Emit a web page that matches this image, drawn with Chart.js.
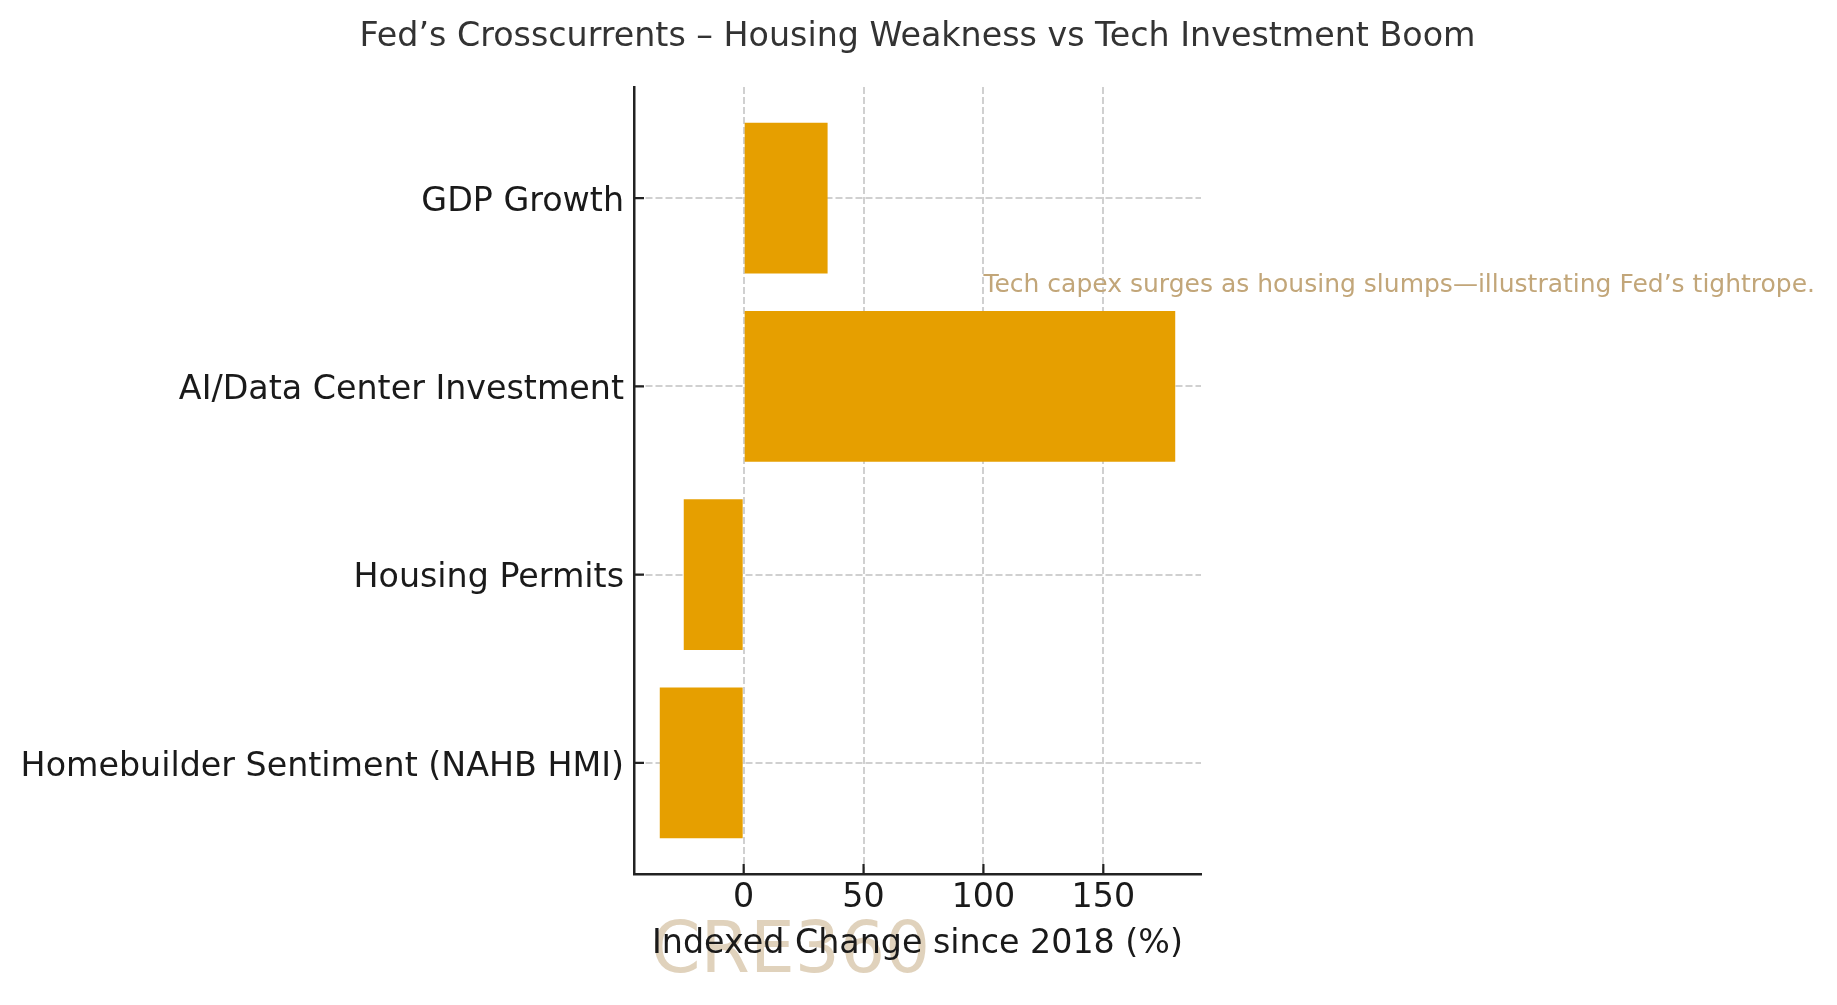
<!DOCTYPE html>
<html>
<head>
<meta charset="utf-8">
<script src="https://cdn.jsdelivr.net/npm/chart.js@4.4.1/dist/chart.umd.min.js"></script>
<style>
  html, body { margin: 0; padding: 0; background: #fff; }
  canvas { display: block; }
</style>
</head>
<body>
<canvas id="myChart" width="1837" height="1005"></canvas>
<script>
// bottom to top, like the original barh
const categories = ['Homebuilder Sentiment (NAHB HMI)', 'Housing Permits', 'AI/Data Center Investment', 'GDP Growth'];
const values = [-35, -25, 180, 35];
const xTicks = [0, 50, 100, 150];
const chartTitle = 'Fed\u2019s Crosscurrents \u2013 Housing Weakness vs Tech Investment Boom';
const xTitle = 'Indexed Change since 2018 (%)';
const noteText = 'Tech capex surges as housing slumps\u2014illustrating Fed\u2019s tightrope.';
const notePos = [100, 2.5];
const watermark = 'CRE360';

const FONT = '"DejaVu Sans", sans-serif';
const TAN = '#c2a679';

const extras = {
  id: 'extras',
  afterDraw(chart) {
    const { ctx, chartArea, scales } = chart;
    const x = scales.x, y = scales.y;
    ctx.save();
    // inward tick marks
    ctx.strokeStyle = '#222';
    ctx.lineWidth = 2.2;
    ctx.beginPath();
    xTicks.forEach(v => {
      const px = x.getPixelForValue(v);
      ctx.moveTo(px, chartArea.bottom);
      ctx.lineTo(px, chartArea.bottom - 10);
    });
    categories.forEach((c, i) => {
      const py = y.getPixelForValue(i);
      ctx.moveTo(chartArea.left, py);
      ctx.lineTo(chartArea.left + 10, py);
    });
    ctx.stroke();

    const cx = (chartArea.left + chartArea.right) / 2;
    ctx.textAlign = 'center';
    ctx.textBaseline = 'alphabetic';
    ctx.fillStyle = '#333';
    ctx.font = '33.3px ' + FONT;
    ctx.fillText(chartTitle, cx, 46);

    // note
    ctx.textAlign = 'left';
    ctx.fillStyle = TAN;
    ctx.font = '25px ' + FONT;
    ctx.fillText(noteText, x.getPixelForValue(notePos[0]), y.getPixelForValue(notePos[1]));

    // watermark
    ctx.globalAlpha = 0.5;
    ctx.font = '71px ' + FONT;
    ctx.fillText(watermark, chartArea.left + 17, chartArea.bottom + 98);
    ctx.globalAlpha = 1;

    ctx.textAlign = 'center';
    ctx.fillStyle = '#1a1a1a';
    ctx.font = '33.3px ' + FONT;
    ctx.fillText(xTitle, cx, chartArea.bottom + 79);
    ctx.restore();
  }
};

const ctx = document.getElementById('myChart');
new Chart(ctx, {
  type: 'bar',
  data: {
    datasets: [{
      data: values.map((v, i) => ({ x: v, y: i })),
      backgroundColor: '#e69f00',
      borderWidth: 0,
      barPercentage: 0.8,
      categoryPercentage: 1.0
    }]
  },
  options: {
    indexAxis: 'y',
    responsive: false,
    animation: false,
    layout: { padding: { left: 0, top: 87, right: 636, bottom: 0 } },
    plugins: { legend: { display: false }, tooltip: { enabled: false } },
    scales: {
      x: {
        type: 'linear',
        min: -45.75,
        max: 190.75,
        offset: false,
        z: 1,
        afterBuildTicks: s => { s.ticks = xTicks.map(v => ({ value: v })); },
        afterFit: s => { s.height = 131; },
        grid: { color: '#d0d0d0', lineWidth: 2, drawTicks: false, offset: false },
        border: { display: true, color: '#222', width: 2.5, dash: [7, 3] },
        ticks: { color: '#1a1a1a', padding: 8, font: { family: FONT, size: 33.3, lineHeight: 1 } }
      },
      y: {
        type: 'linear',
        min: -0.59,
        max: 3.59,
        offset: false,
        z: 1,
        afterBuildTicks: s => { s.ticks = categories.map((c, i) => ({ value: i })); },
        afterFit: s => { s.width = 634; },
        grid: { color: '#d0d0d0', lineWidth: 2, drawTicks: false, offset: false },
        border: { display: true, color: '#222', width: 2.5, dash: [7, 3] },
        ticks: {
          color: '#1a1a1a',
          padding: 10,
          labelOffset: 4,
          font: { family: FONT, size: 33.3, lineHeight: 1 },
          callback: v => categories[v]
        }
      }
    }
  },
  plugins: [extras]
});
</script>
</body>
</html>
